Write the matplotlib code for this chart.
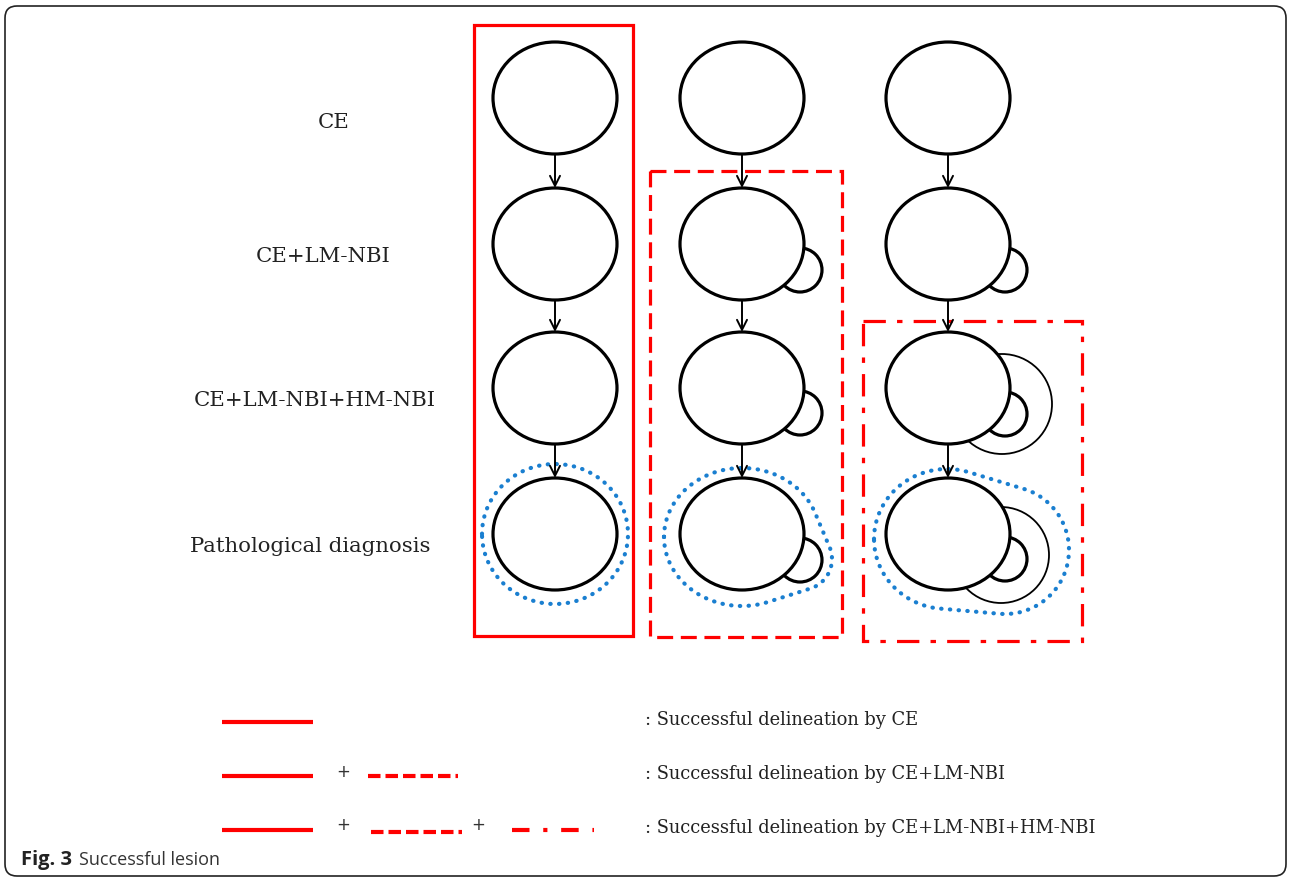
import numpy as np
import matplotlib
matplotlib.use("Agg")
import matplotlib.pyplot as plt
from matplotlib.patches import Ellipse, Circle, Rectangle, FancyBboxPatch

# ---- data ----
row_labels = ["CE", "CE+LM-NBI", "CE+LM-NBI+HM-NBI", "Pathological diagnosis"]
label_x = [334, 323, 315, 310]
row_y = [99, 245, 389, 535]
col_x = [555, 742, 948]
circle_w = 124
circle_h = 112
# bump (small lesion) per column/row: (dx, dy, r) relative to circle centre
bumps = {
    (1, 1): (58, 26, 22), (1, 2): (58, 25, 22), (1, 3): (58, 26, 22),
    (2, 1): (57, 26, 22), (2, 2): (57, 26, 22), (2, 3): (57, 25, 22),
}
thin_rings = {(2, 2): (54, 16, 50), (2, 3): (53, 21, 48)}
legend_texts = [": Successful delineation by CE",
                ": Successful delineation by CE+LM-NBI",
                ": Successful delineation by CE+LM-NBI+HM-NBI"]
legend_y = [723, 777, 831]
caption_bold = "Fig. 3"
caption_rest = "Successful lesion"

RED = "#ff0000"
BLUE = "#1a7fd0"

fig = plt.figure(figsize=(12.9, 8.79), dpi=100)
ax = fig.add_axes([0, 0, 1, 1])
ax.set_xlim(0, 1290)
ax.set_ylim(879, 0)
ax.axis("off")
renderer = fig.canvas.get_renderer()

# outer frame
ax.add_patch(FancyBboxPatch((5, 7), 1281, 870, boxstyle="round,pad=0,rounding_size=12",
                            fill=False, lw=1.2, ec="#222222"))

serif = ["DejaVu Serif"]


def fitted_size(s, target_w):
    t = ax.text(0, 0, s, fontsize=14, family=serif)
    w = t.get_window_extent(renderer=renderer).width
    t.remove()
    return 14 * target_w / w


fs_lab = fitted_size(row_labels[2], 244)
for lbl, lx, y in zip(row_labels, label_x, row_y):
    ax.text(lx, y + 23 if lbl == "CE" else y + 12, lbl, ha="center", va="center",
            fontsize=fs_lab, family=serif, color="#222222")

# circles
for ci, cx in enumerate(col_x):
    for ri, cy in enumerate(row_y):
        ax.add_patch(Ellipse((cx, cy), circle_w, circle_h, fc="white", ec="black", lw=2.3, zorder=5))
        if (ci, ri) in bumps:
            dx, dy, r = bumps[(ci, ri)]
            ax.add_patch(Circle((cx + dx, cy + dy), r, fc="white", ec="black", lw=2.3, zorder=4))
        if (ci, ri) in thin_rings:
            dx, dy, r = thin_rings[(ci, ri)]
            ax.add_patch(Circle((cx + dx, cy + dy), r, fc="white", ec="black", lw=1.3, zorder=3))
    # arrows
    for ri in range(3):
        y0 = row_y[ri] + circle_h / 2 + 1
        y1 = row_y[ri + 1] - circle_h / 2
        ax.annotate("", xy=(cx, y1), xytext=(cx, y0),
                    arrowprops=dict(arrowstyle="->", lw=1.4, color="black", mutation_scale=18,
                                    shrinkA=0, shrinkB=0), zorder=6)

# red boxes
ax.add_patch(Rectangle((474, 26), 159, 611, fill=False, ec=RED, lw=2.3, zorder=2))
ax.add_patch(Rectangle((650, 172), 192, 466, fill=False, ec=RED, lw=2.3,
                       ls=(0, (5, 2.4)), zorder=2))
ax.add_patch(Rectangle((863, 322), 219, 320, fill=False, ec=RED, lw=2.3,
                       ls=(0, (7, 3.5, 1.7, 3.5)), zorder=2))


def convex_hull(pts):
    pts = sorted(set(map(tuple, np.round(pts, 3))))

    def cross(o, a, b):
        return (a[0] - o[0]) * (b[1] - o[1]) - (a[1] - o[1]) * (b[0] - o[0])
    lower, upper = [], []
    for p in pts:
        while len(lower) >= 2 and cross(lower[-2], lower[-1], p) <= 0:
            lower.pop()
        lower.append(p)
    for p in reversed(pts):
        while len(upper) >= 2 and cross(upper[-2], upper[-1], p) <= 0:
            upper.pop()
        upper.append(p)
    h = np.array(lower[:-1] + upper[:-1] + [lower[0]])
    return h[:, 0], h[:, 1]


def outline(cx, cy, rx, ry, extras):
    th = np.linspace(0, 2 * np.pi, 360, endpoint=False)
    pts = [np.column_stack([cx + rx * np.cos(th), cy + ry * np.sin(th)])]
    for (px, py, R) in extras:
        pts.append(np.column_stack([px + R * np.cos(th), py + R * np.sin(th)]))
    x, y = convex_hull(np.vstack(pts))
    d = np.r_[0, np.cumsum(np.hypot(np.diff(x), np.diff(y)))]
    s = np.linspace(0, d[-1], 1500)
    return np.interp(s, d, x), np.interp(s, d, y)


dot_style = dict(color=BLUE, lw=3.0, ls=(0, (0.1, 2.0)), dash_capstyle="round",
                 solid_capstyle="round", zorder=2)
# col 1
x, y = outline(555, 535, 73, 70, [])
ax.plot(x, y, **dot_style)
# col 2
x, y = outline(742, 538, 78, 69, [(801, 560, 31)])
ax.plot(x, y, **dot_style)
# col 3
x, y = outline(947, 540, 73, 70, [(1005, 551, 64)])
ax.plot(x, y, **dot_style)

# legend
lw_leg = 3.0
for yy in legend_y:
    ax.plot([222, 313], [yy] * 2, color=RED, lw=lw_leg, solid_capstyle="butt")
plus_kw = dict(ha="center", va="center", fontsize=12, family=["DejaVu Sans"], color="#333333")
ax.text(343, legend_y[1] - 5, "+", **plus_kw)
ax.text(343, legend_y[2] - 6, "+", **plus_kw)
ax.text(478, legend_y[2] - 6, "+", **plus_kw)
ax.plot([368, 458], [legend_y[1]] * 2, color=RED, lw=lw_leg, ls=(0, (3.0, 1.2)), dash_capstyle="butt")
ax.plot([371, 462], [legend_y[2] + 2] * 2, color=RED, lw=lw_leg, ls=(0, (3.0, 1.2)), dash_capstyle="butt")
ax.plot([512, 594], [legend_y[2]] * 2, color=RED, lw=lw_leg, ls=(0, (4.2, 3.3, 1.0, 3.3)), dash_capstyle="butt")
fs_leg = fitted_size(legend_texts[2], 455)
for t, y in zip(legend_texts, legend_y):
    ax.text(645, y - 3, t, ha="left", va="center", fontsize=fs_leg, family=serif, color="#222222")

# caption
cap_font = ["Open Sans", "DejaVu Sans"]
tb = ax.text(21, 860, caption_bold, ha="left", va="center", fontsize=14.5, weight="bold",
             family=cap_font, color="#222222")
bb = tb.get_window_extent(renderer=renderer)
x_end = ax.transData.inverted().transform((bb.x1, bb.y0))[0]
ax.text(x_end + 7, 860, caption_rest, ha="left", va="center", fontsize=13,
        family=cap_font, color="#333333")

fig.savefig("out.png", dpi=100)
